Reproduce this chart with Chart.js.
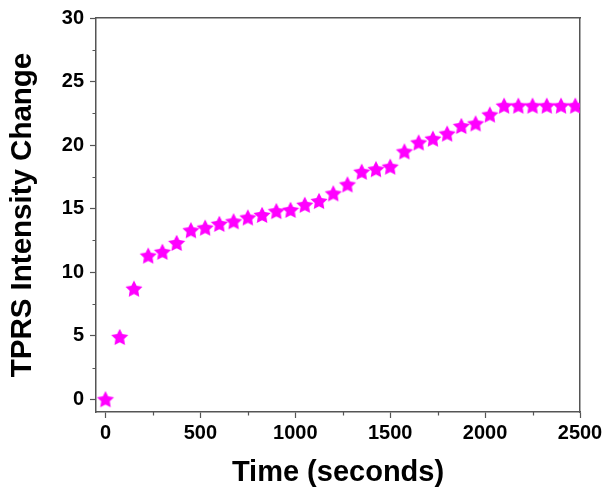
<!DOCTYPE html>
<html>
<head>
<meta charset="utf-8">
<script src="https://cdn.jsdelivr.net/npm/chart.js@4"></script>
<style>
  html, body { margin: 0; padding: 0; background: #fff; }
  #wrap { width: 612px; height: 501px; }
</style>
</head>
<body>
<div id="wrap"><canvas id="myChart" width="612" height="501"></canvas></div>
<script>
// time in seconds
var times = [0, 75, 150, 225, 300, 375, 450, 525, 600, 675, 750, 825, 900, 975,
    1050, 1125, 1200, 1275, 1350, 1425, 1500, 1575, 1650, 1725, 1800, 1875,
    1950, 2025, 2100, 2175, 2250, 2325, 2400, 2475];
var intensity = [0, 4.9, 8.7, 11.3, 11.6, 12.3, 13.3, 13.5, 13.8, 14.0, 14.3, 14.5,
    14.8, 14.9, 15.3, 15.6, 16.2, 16.9, 17.9, 18.1, 18.3, 19.5, 20.2, 20.5,
    20.9, 21.5, 21.7, 22.4, 23.1, 23.1, 23.1, 23.1, 23.1, 23.1];

var xTicks = [0, 500, 1000, 1500, 2000, 2500];
var xMinor = [250, 750, 1250, 1750, 2250];
var yTicks = [0, 5, 10, 15, 20, 25, 30];
var yMinor = [2.5, 7.5, 12.5, 17.5, 22.5, 27.5];

var font = 'Liberation Sans, Arial, sans-serif';
var axisColor = '#555';

// filled five point star for the markers
function makeStar(r, color) {
    var c = document.createElement('canvas');
    var s = Math.ceil(r * 2 + 2);
    c.width = s; c.height = s;
    var g = c.getContext('2d');
    var cx = s / 2, cy = s / 2 + 0.7, ri = r * 0.5;
    g.beginPath();
    for (var i = 0; i < 10; i++) {
        var a = -Math.PI / 2 + i * Math.PI / 5;
        var rr = i % 2 === 0 ? r : ri;
        g.lineTo(cx + rr * Math.cos(a), cy + rr * Math.sin(a));
    }
    g.closePath();
    g.fillStyle = color;
    g.fill();
    return c;
}
var star = makeStar(9, '#ff00ff');

// short minor ticks between the labelled ones
var minorTicks = {
    id: 'minorTicks',
    afterDraw: function (chart) {
        var ctx = chart.ctx, xs = chart.scales.x, ys = chart.scales.y;
        var a = chart.chartArea;
        ctx.save();
        ctx.strokeStyle = axisColor;
        ctx.lineWidth = 1.2;
        ctx.beginPath();
        xMinor.forEach(function (v) {
            var p = Math.round(xs.getPixelForValue(v)) + 0.5;
            ctx.moveTo(p, a.bottom); ctx.lineTo(p, a.bottom + 3.5);
        });
        yMinor.forEach(function (v) {
            var p = Math.round(ys.getPixelForValue(v)) + 0.5;
            ctx.moveTo(a.left, p); ctx.lineTo(a.left - 3.5, p);
        });
        ctx.stroke();
        ctx.restore();
    }
};

function plain(v) { return String(v); }

var ctx = document.getElementById('myChart').getContext('2d');
var chart = new Chart(ctx, {
    type: 'scatter',
    data: {
        datasets: [{
            data: times.map(function (t, i) { return {x: t, y: intensity[i]}; }),
            pointStyle: star,
            backgroundColor: '#ff00ff',
            borderColor: '#ff00ff'
        }]
    },
    options: {
        responsive: false,
        animation: false,
        layout: { padding: { top: 18, right: 32, left: 0, bottom: 0 } },
        plugins: { legend: { display: false }, tooltip: { enabled: false } },
        scales: {
            x: {
                type: 'linear',
                position: 'bottom',
                min: -50,
                max: 2500,
                afterBuildTicks: function (s) { s.ticks = xTicks.map(function (v) { return {value: v}; }); },
                afterFit: function (s) { s.height = 89; },
                grid: { drawOnChartArea: false, tickLength: 6, tickColor: axisColor, tickWidth: 1.2 },
                border: { color: axisColor, width: 1.5 },
                ticks: { color: '#000', padding: 3, maxRotation: 0, callback: plain,
                    font: { family: font, size: 20, weight: 'bold' } },
                title: {
                    display: true,
                    text: 'Time (seconds)',
                    color: '#000',
                    padding: { bottom: 11 },
                    font: { family: font, size: 29, weight: 'bold' }
                }
            },
            y: {
                type: 'linear',
                position: 'left',
                min: -1,
                max: 30,
                afterBuildTicks: function (s) { s.ticks = yTicks.map(function (v) { return {value: v}; }); },
                afterFit: function (s) { s.width = 96; },
                grid: { drawOnChartArea: false, tickLength: 6, tickColor: axisColor, tickWidth: 1.2 },
                border: { color: axisColor, width: 1.5 },
                ticks: { color: '#000', padding: 6, callback: plain,
                    font: { family: font, size: 20, weight: 'bold' } },
                title: {
                    display: true,
                    text: 'TPRS Intensity Change',
                    color: '#000',
                    padding: { top: 5 },
                    font: { family: font, size: 29.5, weight: 'bold' }
                }
            },
            x2: {
                type: 'linear',
                position: 'top',
                min: -50,
                max: 2500,
                afterFit: function (s) { s.height = 0; },
                grid: { drawOnChartArea: false, drawTicks: false },
                border: { color: axisColor, width: 1.5 },
                ticks: { display: false }
            },
            y2: {
                type: 'linear',
                position: 'right',
                min: -1,
                max: 30,
                afterFit: function (s) { s.width = 0; },
                grid: { drawOnChartArea: false, drawTicks: false },
                border: { color: axisColor, width: 1.5 },
                ticks: { display: false }
            }
        }
    },
    plugins: [minorTicks]
});
</script>
</body>
</html>
